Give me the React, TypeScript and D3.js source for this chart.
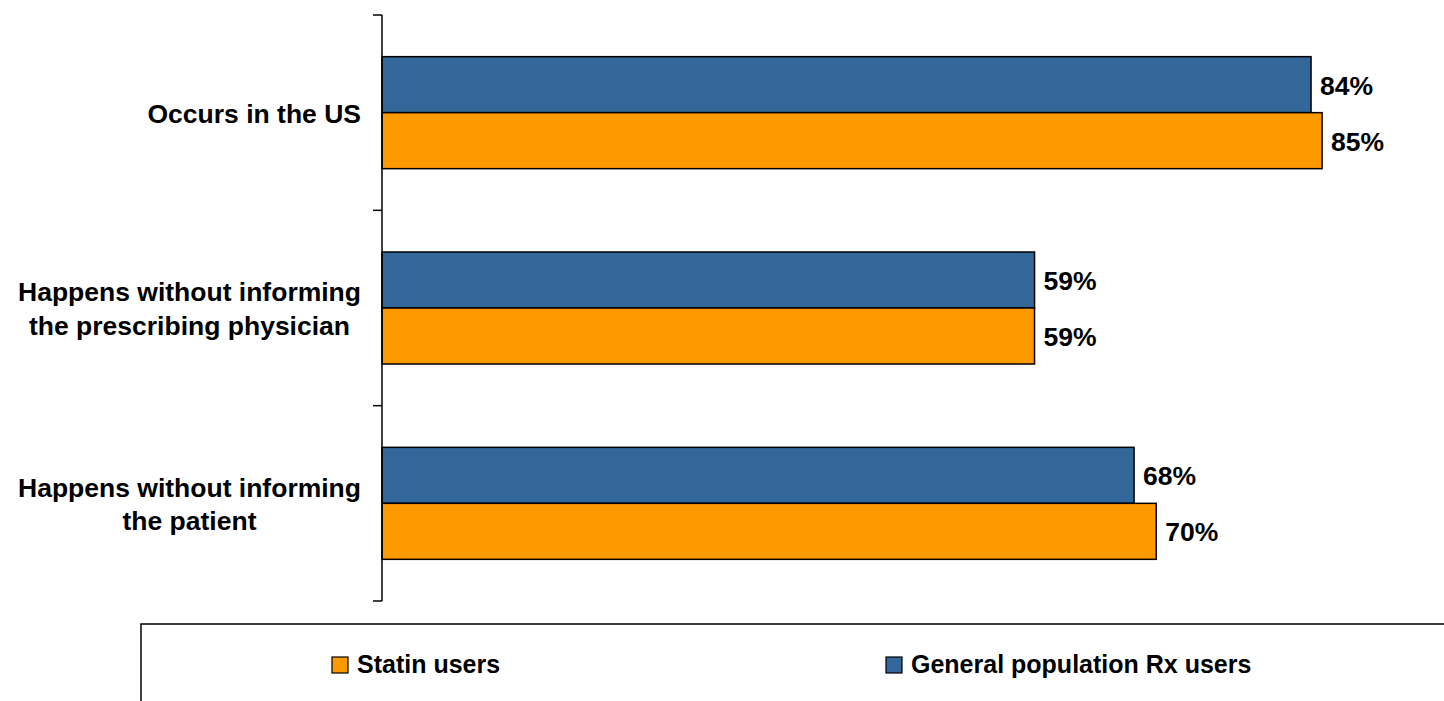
import React from "react";
import * as d3 from "d3";

const categories: string[][] = [
  ["Occurs in the US"],
  ["Happens without informing", "the prescribing physician"],
  ["Happens without informing", "the patient"],
];
const seriesNames = ["General population Rx users", "Statin users"];
const generalValues = [84, 59, 68];
const statinValues = [85, 59, 70];
const seriesColors = ["#336699", "#FF9900"];
const legendOrder = [1, 0];

const W = 1444;
const H = 701;
const FONT = "'Liberation Sans', Arial, Helvetica, sans-serif";
const LABEL_SIZE = 26.5;

function measure(text: string, size: number): number {
  try {
    const c = document.createElement("canvas");
    const ctx = c.getContext("2d");
    if (!ctx) return text.length * size * 0.55;
    ctx.font = `bold ${size}px ${FONT}`;
    return ctx.measureText(text).width;
  } catch (e) {
    return text.length * size * 0.55;
  }
}

export default function App() {
  const catKeys = categories.map((_, i) => String(i));
  const y0 = d3.scaleBand<string>().domain(catKeys).range([15, 601]).paddingInner(0).paddingOuter(0);
  const y1 = d3
    .scaleBand<string>()
    .domain(seriesNames)
    .range([0, y0.bandwidth()])
    .paddingInner(0)
    .paddingOuter(0.744);
  const x = d3.scaleLinear().domain([0, 100]).range([382, 1488]);
  const values = [generalValues, statinValues];

  const boundaries = [...catKeys.map((k) => y0(k) as number), 601];
  const labelRight = 361;

  return (
    <svg
      width={W}
      height={H}
      style={{ position: "absolute", left: 0, top: 0, background: "#fff" }}
      fontFamily={FONT}
    >
      <rect x={0} y={0} width={W} height={H} fill="#fff" />
      {/* bars */}
      {catKeys.map((k, ci) => (
        <g key={k} transform={`translate(0,${y0(k)})`}>
          {seriesNames.map((s, si) => {
            const v = values[si][ci];
            const yy = y1(s) as number;
            const bh = y1.bandwidth();
            return (
              <g key={s}>
                <rect
                  x={x(0)}
                  y={yy}
                  width={x(v) - x(0)}
                  height={bh}
                  fill={seriesColors[si]}
                  stroke="#000"
                  strokeWidth={1.5}
                />
                <text
                  x={x(v) + 9}
                  y={yy + bh / 2}
                  dy="0.38em"
                  fontSize={LABEL_SIZE}
                  fontWeight="bold"
                  fill="#000"
                >
                  {v}%
                </text>
              </g>
            );
          })}
        </g>
      ))}
      {/* axis */}
      <line x1={382} x2={382} y1={15} y2={601} stroke="#000" strokeWidth={1.5} />
      {boundaries.map((b, i) => (
        <line key={i} x1={373} x2={382} y1={b} y2={b} stroke="#000" strokeWidth={1.5} />
      ))}
      {/* category labels: block right-aligned, lines centred within block */}
      {categories.map((lines, ci) => {
        const c = (y0(String(ci)) as number) + y0.bandwidth() / 2;
        const lh = 33.5;
        const start = c - ((lines.length - 1) * lh) / 2;
        const maxW = Math.max(...lines.map((l) => measure(l, LABEL_SIZE)));
        const cx = labelRight - maxW / 2;
        return (
          <text key={ci} textAnchor="middle" fontSize={LABEL_SIZE} fontWeight="bold" fill="#000">
            {lines.map((l, li) => (
              <tspan key={li} x={cx} y={start + li * lh} dy="0.38em">
                {l}
              </tspan>
            ))}
          </text>
        );
      })}
      {/* legend */}
      <rect x={141} y={624} width={1400} height={200} fill="none" stroke="#000" strokeWidth={1.5} />
      {legendOrder.map((si, i) => {
        const lx = [332, 886][i];
        return (
          <g key={si}>
            <rect x={lx} y={657} width={16} height={16} fill={seriesColors[si]} stroke="#000" strokeWidth={1.2} />
            <text x={lx + 25} y={673} fontSize={25} fontWeight="bold" fill="#000">
              {seriesNames[si]}
            </text>
          </g>
        );
      })}
    </svg>
  );
}
